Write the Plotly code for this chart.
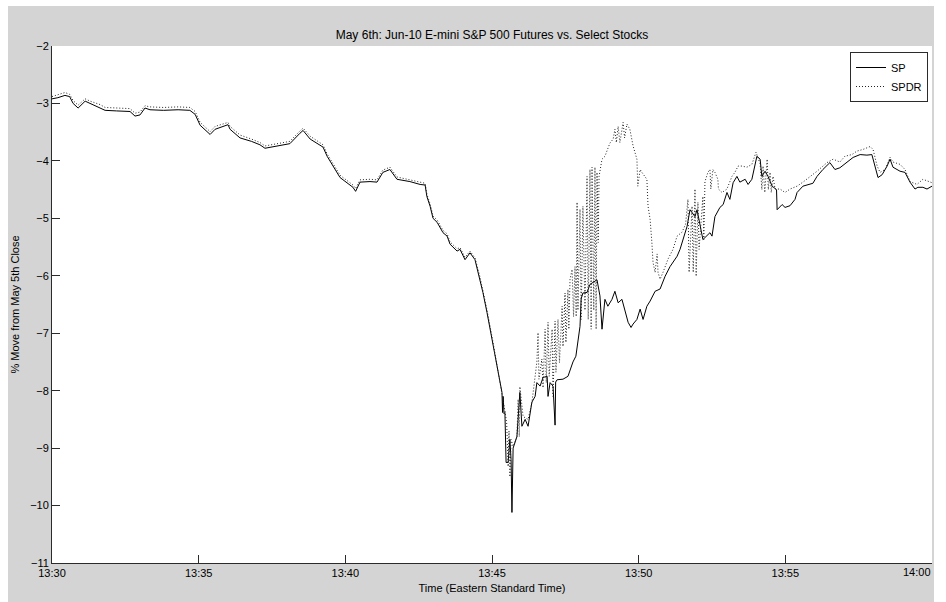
import pandas as pd
import plotly.graph_objects as go

# minutes after 13:30 and % move from May 5th close
sp_min = [0, 0.2, 0.44, 0.6, 0.72, 0.89, 1.13, 1.3, 1.64, 1.81, 2.2, 2.66, 2.83, 3.0, 3.17, 3.34, 3.8, 4.3, 4.7, 4.88,
          5.05, 5.39, 5.56, 6.0, 6.07, 6.41, 6.8, 7.09, 7.26, 7.6, 8.11, 8.45, 8.56, 8.8, 9.24, 9.38, 9.58, 9.82, 10.26, 10.35,
          10.5, 10.84, 11.08, 11.28, 11.52, 11.76, 12.2, 12.55, 12.72, 12.78, 12.89, 12.99, 13.13, 13.33, 13.47, 13.57, 13.81, 13.91, 14.08, 14.25,
          14.42, 14.59, 14.69, 14.83, 15.0, 15.17, 15.27, 15.34, 15.36, 15.38, 15.41, 15.44, 15.48, 15.55, 15.61, 15.65, 15.68, 15.72, 15.85, 15.95,
          16.02, 16.13, 16.23, 16.36, 16.47, 16.53, 16.64, 16.74, 16.88, 16.91, 16.98, 17.08, 17.15, 17.17, 17.22, 17.42, 17.59, 17.76, 17.86, 17.93,
          18.0, 18.04, 18.1, 18.24, 18.34, 18.58, 18.68, 18.75, 18.85, 18.95, 19.09, 19.19, 19.3, 19.43, 19.53, 19.64, 19.74, 19.81, 19.94, 20.05,
          20.15, 20.28, 20.39, 20.56, 20.73, 20.9, 21.07, 21.31, 21.41, 21.51, 21.65, 21.75, 21.92, 21.99, 22.09, 22.19, 22.43, 22.5, 22.6, 22.77,
          22.88, 23.01, 23.11, 23.22, 23.35, 23.45, 23.63, 23.73, 23.86, 23.97, 24.03, 24.14, 24.2, 24.31, 24.41, 24.55, 24.7, 24.72, 24.89, 24.99,
          25.16, 25.33, 25.4, 25.6, 25.94, 26.08, 26.28, 26.52, 26.69, 26.86, 27.1, 27.31, 27.55, 27.78, 27.95, 28.06, 28.16, 28.3, 28.47, 28.57,
          28.67, 28.91, 29.08, 29.25, 29.42, 29.52, 29.69, 29.83, 30.0]
sp_val = [-2.92, -2.90, -2.86, -2.88, -3.0, -3.08, -2.96, -3.0, -3.07, -3.12, -3.13, -3.14, -3.22, -3.2, -3.08, -3.11, -3.12, -3.11, -3.12, -3.19,
          -3.38, -3.54, -3.45, -3.37, -3.45, -3.6, -3.66, -3.72, -3.78, -3.75, -3.70, -3.52, -3.47, -3.62, -3.76, -3.92, -4.10, -4.29, -4.46, -4.53,
          -4.37, -4.36, -4.37, -4.20, -4.15, -4.32, -4.36, -4.41, -4.42, -4.62, -4.79, -5.0, -5.07, -5.25, -5.31, -5.45, -5.57, -5.54, -5.72, -5.60,
          -5.72, -6.06, -6.29, -6.64, -7.1, -7.58, -7.86, -8.03, -8.38, -8.1, -8.4, -8.38, -9.25, -9.25, -8.85, -9.2, -10.12, -9.0, -8.8, -8.03,
          -8.62, -8.5, -8.62, -8.2, -8.1, -7.86, -7.92, -7.77, -7.75, -8.1, -7.86, -7.92, -8.6, -7.85, -7.81, -7.80, -7.75, -7.5, -7.4, -7.17,
          -6.88, -6.4, -6.3, -6.29, -6.15, -6.07, -6.35, -6.93, -6.41, -6.53, -6.41, -6.27, -6.47, -6.41, -6.58, -6.81, -6.90, -6.84, -6.76, -6.58,
          -6.76, -6.53, -6.44, -6.27, -6.23, -6.01, -5.84, -5.66, -5.54, -5.37, -5.14, -4.85, -4.97, -4.85, -5.14, -5.37, -5.25, -5.31, -4.97, -4.81,
          -4.76, -4.55, -4.67, -4.38, -4.27, -4.37, -4.32, -4.41, -4.32, -4.06, -3.92, -3.97, -4.27, -4.18, -4.27, -4.44, -4.5, -4.85, -4.76, -4.81,
          -4.78, -4.67, -4.55, -4.44, -4.39, -4.27, -4.15, -4.03, -4.15, -4.12, -4.03, -3.94, -3.89, -3.90, -3.89, -4.10, -4.29, -4.24, -4.09, -3.97,
          -4.11, -4.18, -4.20, -4.37, -4.49, -4.46, -4.46, -4.49, -4.44]

spdr_min = [0, 0.2, 0.44, 0.6, 0.72, 0.89, 1.13, 1.3, 1.64, 1.81, 2.2, 2.66, 2.83, 3.0, 3.17, 3.34, 3.8, 4.3, 4.7, 4.88,
            5.05, 5.39, 5.56, 6.0, 6.07, 6.41, 6.8, 7.09, 7.26, 7.6, 8.11, 8.45, 8.56, 8.8, 9.24, 9.38, 9.58, 9.82, 10.26, 10.35,
            10.5, 10.84, 11.08, 11.28, 11.52, 11.76, 12.2, 12.55, 12.72, 12.78, 12.89, 12.99, 13.13, 13.33, 13.47, 13.57, 13.81, 13.91, 14.08, 14.25,
            14.42, 14.59, 14.69, 14.83, 15.0, 15.17, 15.27, 15.34, 15.44, 15.5, 15.55, 15.58, 15.61, 15.65, 15.72, 15.85, 15.89, 15.93, 15.95, 16.06,
            16.23, 16.36, 16.47, 16.53, 16.57, 16.6, 16.7, 16.74, 16.81, 16.85, 16.91, 16.95, 17.05, 17.08, 17.15, 17.18, 17.25, 17.3, 17.39, 17.42,
            17.49, 17.52, 17.59, 17.62, 17.66, 17.73, 17.78, 17.83, 17.87, 17.9, 17.93, 18.0, 18.04, 18.1, 18.17, 18.24, 18.28, 18.34, 18.38, 18.41,
            18.47, 18.51, 18.55, 18.58, 18.62, 18.65, 18.75, 18.85, 19.02, 19.13, 19.19, 19.24, 19.3, 19.36, 19.47, 19.52, 19.6, 19.7, 19.81, 19.94,
            19.97, 20.05, 20.11, 20.28, 20.32, 20.39, 20.45, 20.49, 20.56, 20.63, 20.66, 20.73, 20.83, 21.0, 21.17, 21.31, 21.48, 21.6, 21.68, 21.72,
            21.82, 21.86, 21.92, 21.96, 22.02, 22.06, 22.19, 22.22, 22.26, 22.36, 22.43, 22.46, 22.53, 22.6, 22.7, 22.72, 22.84, 23.01, 23.18, 23.28,
            23.39, 23.52, 23.69, 23.86, 24.0, 24.07, 24.14, 24.2, 24.24, 24.3, 24.38, 24.42, 24.48, 24.52, 24.58, 24.65, 24.82, 24.99, 25.16, 25.4,
            25.6, 26.08, 26.42, 26.63, 26.86, 27.03, 27.27, 27.44, 27.65, 27.89, 27.99, 28.13, 28.23, 28.4, 28.57, 28.67, 28.91, 29.08, 29.25, 29.49,
            29.69, 30.0]
spdr_val = [-2.88, -2.85, -2.81, -2.84, -2.95, -3.03, -2.92, -2.96, -3.02, -3.07, -3.08, -3.09, -3.17, -3.15, -3.04, -3.06, -3.07, -3.06, -3.07, -3.14,
            -3.33, -3.49, -3.40, -3.33, -3.40, -3.55, -3.62, -3.68, -3.74, -3.71, -3.66, -3.48, -3.43, -3.57, -3.72, -3.88, -4.06, -4.25, -4.42, -4.48,
            -4.33, -4.32, -4.33, -4.16, -4.11, -4.28, -4.33, -4.37, -4.39, -4.58, -4.75, -4.96, -5.03, -5.21, -5.27, -5.41, -5.53, -5.51, -5.68, -5.57,
            -5.69, -6.02, -6.25, -6.60, -7.06, -7.54, -7.82, -8.0, -8.35, -8.56, -9.32, -8.7, -9.5, -8.85, -8.97, -8.8, -8.15, -8.8, -7.93, -8.45,
            -8.50, -8.21, -7.80, -7.5, -6.99, -7.80, -7.45, -7.95, -6.93, -7.86, -6.81, -7.75, -6.93, -8.10, -6.79, -7.68, -6.76, -7.51, -6.53, -7.23,
            -6.30, -7.16, -6.24, -6.93, -6.06, -5.89, -6.71, -5.84, -6.71, -4.72, -6.6, -4.84, -6.76, -4.79, -6.6, -4.27, -6.76, -4.15, -6.93, -4.11,
            -6.6, -4.11, -6.93, -4.20, -5.42, -4.27, -3.97, -3.92, -3.69, -3.62, -3.45, -3.68, -3.40, -3.68, -3.33, -3.6, -3.36, -3.45, -3.74, -3.97,
            -4.44, -4.15, -4.20, -4.32, -4.79, -5.02, -5.42, -5.77, -5.94, -5.62, -5.94, -6.06, -5.94, -5.71, -5.54, -5.31, -5.24, -5.1, -4.67, -5.94,
            -4.79, -5.94, -4.49, -6.01, -4.72, -5.54, -4.62, -5.37, -4.36, -4.20, -4.15, -4.49, -4.15, -4.20, -4.32, -4.49, -4.55, -4.49, -4.27, -4.20,
            -4.09, -4.09, -4.11, -4.06, -3.85, -3.94, -4.05, -4.5, -4.09, -4.55, -3.97, -4.5, -4.20, -4.55, -4.27, -4.49, -4.49, -4.55, -4.49, -4.44,
            -4.37, -4.18, -4.03, -3.97, -4.02, -3.92, -3.89, -3.83, -3.80, -3.75, -3.80, -4.09, -4.20, -4.15, -3.94, -4.02, -4.06, -4.15, -4.36, -4.41,
            -4.32, -4.38]

tick_minutes = [0, 5, 10, 15, 20, 25, 30]
y_ticks = [-2, -3, -4, -5, -6, -7, -8, -9, -10, -11]

base = pd.Timestamp("2010-05-06 13:30:00")
to_time = lambda m: base + pd.to_timedelta(pd.Series(m, dtype=float), unit="m")

FONT = "Liberation Sans, Arial, Helvetica, sans-serif"
AX = "#2b2b2b"
W, H = 934, 602
L, R, T, B = 52, W - 932, 46, H - 563
PW, PH = W - L - R, H - T - B

def px(x):  # page pixel -> paper x
    return (x - L) / PW

def py(y):  # page pixel -> paper y
    return (H - B - y) / PH

fig = go.Figure()
fig.add_trace(go.Scatter(x=to_time(sp_min), y=sp_val, mode="lines", name="SP",
                         line=dict(color="black", width=1)))
fig.add_trace(go.Scatter(x=to_time(spdr_min), y=spdr_val, mode="lines", name="SPDR",
                         line=dict(color="#222222", width=1, dash="1px,2px")))

tv = to_time(tick_minutes)
last_label = tv.iloc[-1].strftime("%H:%M")
fig.update_layout(
    width=W, height=H, autosize=False,
    margin=dict(l=L, r=R, t=T, b=B),
    paper_bgcolor="#d4d4d4", plot_bgcolor="white",
    font=dict(family=FONT, size=11, color="black"),
    title=dict(text="May 6th: Jun-10 E-mini S&P 500 Futures vs. Select Stocks",
               x=0.5, xref="paper", xanchor="center", y=1 - 35 / H, yref="container",
               yanchor="middle", font=dict(size=12)),
    showlegend=True,
    legend=dict(x=px(928), y=py(52), xanchor="right", yanchor="top", bgcolor="white",
                bordercolor=AX, borderwidth=1, font=dict(size=11),
                itemwidth=30, tracegroupgap=0),
    xaxis=dict(type="date", range=[tv.iloc[0], tv.iloc[-1]], tickvals=list(tv), tickformat="%H:%M",
               ticks="inside", ticklen=8, tickcolor=AX, showline=True, linecolor=AX, linewidth=1,
               showgrid=False, zeroline=False, mirror=False,
               title=dict(text="Time (Eastern Standard Time)", standoff=6, font=dict(size=11))),
    yaxis=dict(range=[-11, -2], tickvals=y_ticks, ticks="inside", ticklen=8, tickcolor=AX,
               showline=True, linecolor=AX, linewidth=1, showgrid=False, zeroline=False, mirror=False,
               title=dict(text="% Move from May 5th Close", standoff=8, font=dict(size=11))),
    annotations=[
        # last tick label, kept inside the page edge
        dict(text=last_label, xref="paper", yref="paper", x=1, y=0, xanchor="right", yanchor="top",
             yshift=-2, showarrow=False, font=dict(size=11, color="black"), borderpad=0),
    ],
    shapes=[
        dict(type="rect", xref="paper", yref="paper", x0=px(0), x1=px(8), y0=py(H), y1=py(0),
             fillcolor="white", line=dict(width=0), layer="above"),
        dict(type="rect", xref="paper", yref="paper", x0=px(0), x1=px(W), y0=py(6), y1=py(0),
             fillcolor="white", line=dict(width=0), layer="above"),
    ],
)

fig.write_html("out.html", config={"responsive": False})
